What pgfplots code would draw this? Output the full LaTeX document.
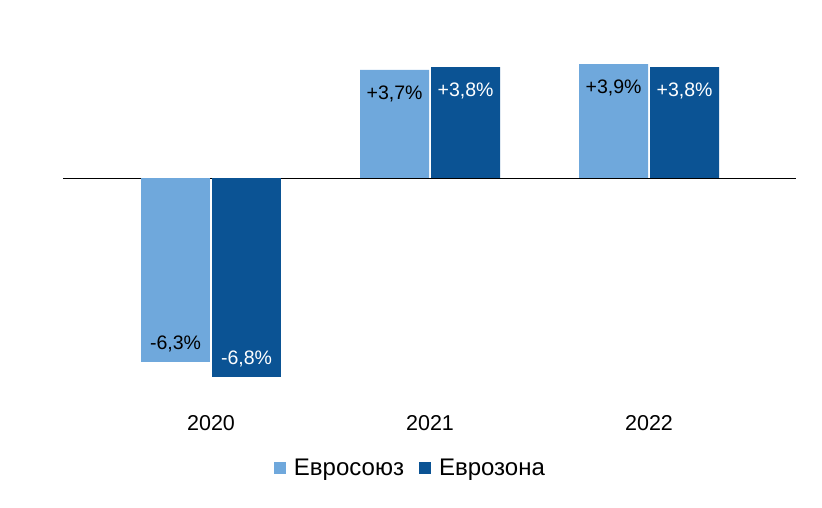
\documentclass[border=0pt]{standalone}
\usepackage{fontspec}
\setmainfont{Liberation Sans}
\usepackage{pgfplots}
\pgfplotsset{compat=1.18}
\definecolor{eu}{HTML}{6FA8DC}
\definecolor{ez}{HTML}{0B5394}
\begin{document}
\begin{tikzpicture}
\path[use as bounding box] (0,0) rectangle (822bp,508bp);
\begin{axis}[
  at={(63bp,330bp)}, anchor=origin,
  x=219bp, y=29.2bp,
  xmin=0, xmax=3.347, ymin=-7.9, ymax=5,
  axis line style={draw=none},
  major tick length=0pt,
  ytick=\empty,
  xtick={0.676,1.676,2.676},
  xticklabels={2020,2021,2022},
  xticklabel style={font=\fontsize{21.5bp}{24bp}\selectfont, yshift=-3bp},
  extra y ticks={0},
  extra y tick labels={},
  extra y tick style={grid=major, major grid style={black, line width=0.8bp}},
  clip=false,
  point meta=explicit symbolic,
  legend columns=2,
  legend style={draw=none, fill=none, at={(0.474,-0.157)}, anchor=center,
    font=\fontsize{24bp}{27bp}\selectfont,
    /tikz/every odd column/.append style={column sep=6bp},
    /tikz/every even column/.append style={column sep=13bp}},
  legend image code/.code={\fill (0bp,-6bp) rectangle (12bp,6bp);},
]
% positive values
\addplot[ybar, bar width=69bp, bar shift=-35.5bp, fill=eu, draw=none,
  nodes near coords={\pgfplotspointmeta},
  nodes near coords align={anchor=north},
  every node near coord/.append style={black, xshift=-35.5bp, yshift=-12bp, font=\fontsize{19.5bp}{22bp}\selectfont}]
  coordinates {(1.676,3.7) [+3,7\%] (2.676,3.9) [+3,9\%]};
\addlegendentry{Евросоюз}
\addplot[ybar, bar width=69bp, bar shift=35.5bp, fill=ez, draw=none,
  nodes near coords={\pgfplotspointmeta},
  nodes near coords align={anchor=north},
  every node near coord/.append style={white, xshift=35.5bp, yshift=-12bp, font=\fontsize{19.5bp}{22bp}\selectfont}]
  coordinates {(1.676,3.8) [+3,8\%] (2.676,3.8) [+3,8\%]};
\addlegendentry{Еврозона}
% negative values
\addplot[forget plot, ybar, bar width=69bp, bar shift=-35.5bp, fill=eu, draw=none,
  nodes near coords={\pgfplotspointmeta},
  nodes near coords align={anchor=south},
  every node near coord/.append style={black, xshift=-35.5bp, yshift=6bp, font=\fontsize{19.5bp}{22bp}\selectfont}]
  coordinates {(0.676,-6.3) [-6,3\%]};
\addplot[forget plot, ybar, bar width=69bp, bar shift=35.5bp, fill=ez, draw=none,
  nodes near coords={\pgfplotspointmeta},
  nodes near coords align={anchor=south},
  every node near coord/.append style={white, xshift=35.5bp, yshift=6bp, font=\fontsize{19.5bp}{22bp}\selectfont}]
  coordinates {(0.676,-6.8) [-6,8\%]};
\end{axis}
\end{tikzpicture}
\end{document}
